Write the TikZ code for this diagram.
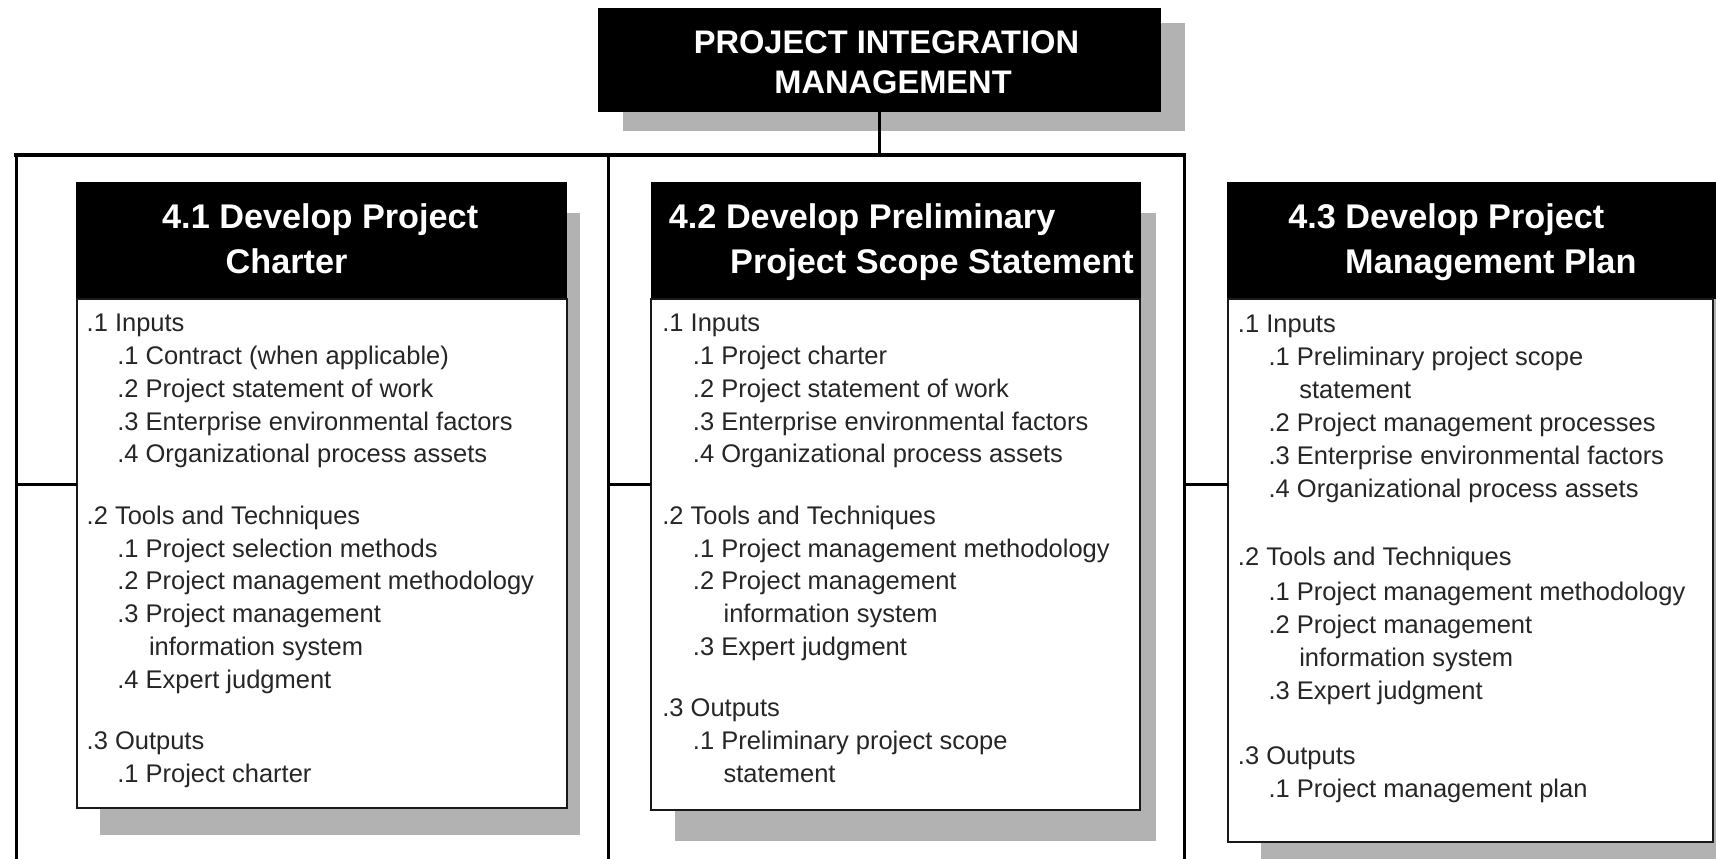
\documentclass[tikz,border=0pt]{standalone}
\usepackage{fontspec}
\setmainfont{Liberation Sans}
\newcommand\txl[4]{\node[bt] (#1) at (#2,#3) {#4};}
\begin{document}
\begin{tikzpicture}[x=1pt,y=-1pt,
  shadowfill/.style={fill=black!30},
  hdr/.style={fill=black, draw=black, line width=1pt, inner sep=0pt, outer sep=0pt, anchor=north west},
  bodybox/.style={fill=white, draw=black!90, line width=1.8pt, inner sep=0pt, outer sep=0pt, anchor=north west},
  bt/.style={font=\fontsize{23.3}{30}\selectfont, text=black!85, anchor=base west, inner sep=0pt},
  ht/.style={font=\fontsize{31.3}{41}\selectfont\bfseries, text=white, anchor=base west, inner sep=0pt},
  tt/.style={font=\fontsize{29.8}{37}\selectfont\bfseries, text=white, anchor=base, inner sep=0pt},
  trunk/.style={line width=2.8pt, draw=black},
  ]
\clip (0,0) rectangle (1568,784);
\fill[white] (0,0) rectangle (1568,784);
% shadows
\fill[shadowfill] (569,21) rectangle (1083,120);
\fill[shadowfill] (91,195) rectangle (530,763);
\fill[shadowfill] (617,195) rectangle (1056,768);
\fill[shadowfill] (1152,195) rectangle (1590,800);
% title
\node[hdr, minimum width=513pt, minimum height=94pt] (title) at (547,8) {};
\node[tt] (ttl1) at (810,48.5) {PROJECT INTEGRATION};
\node[tt] (ttl2) at (816,85) {MANAGEMENT};
% bracket
\coordinate (tl) at (15,142);
\coordinate (tm) at (556,142);
\coordinate (tr) at (1082,142);
\coordinate (lb) at (15,800);
\coordinate (mb) at (556,800);
\coordinate (rb) at (1082,800);
\draw[trunk] (title.south) -- (title.south |- tm);
\draw[trunk] (tl) -- (lb);
\draw[trunk] (tm) -- (mb);
\draw[trunk] (tr) -- (rb);
\draw[trunk, line width=3.8pt, line cap=rect] (tl) -- (tr);
% boxes
\node[hdr, minimum width=448pt, minimum height=106pt] (h1) at (70,167) {};
\node[bodybox, minimum width=448pt, minimum height=465pt] (b1) at (70,273) {};
\node[hdr, minimum width=447pt, minimum height=106pt] (h2) at (595,167) {};
\node[bodybox, minimum width=447pt, minimum height=467pt] (b2) at (595,273) {};
\node[hdr, minimum width=470pt, minimum height=106pt] (h3) at (1122,167) {};
\node[bodybox, minimum width=443pt, minimum height=496pt] (b3) at (1122,273) {};
% branches
\coordinate (j1) at (15,443);
\coordinate (j2) at (556,443);
\coordinate (j3) at (1082,443);
\draw[trunk] (j1) -- (j1 -| b1.west);
\draw[trunk] (j2) -- (j2 -| b2.west);
\draw[trunk] (j3) -- (j3 -| b3.west);
% headers
\node[ht] (h1a) at (148,209) {4.1 Develop Project};
\node[ht] (h1b) at (206,250) {Charter};
\node[ht] (h2a) at (611,209) {4.2 Develop Preliminary};
\node[ht] (h2b) at (667,250) {Project Scope Statement};
\node[ht] (h3a) at (1177,209) {4.3 Develop Project};
\node[ht] (h3b) at (1229,250) {Management Plan};
% box 1 text
\txl{a1}{79}{303}{.1 Inputs}
\txl{a2}{107}{333}{.1 Contract (when applicable)}
\txl{a3}{107}{363}{.2 Project statement of work}
\txl{a4}{107}{393}{.3 Enterprise environmental factors}
\txl{a5}{107}{423}{.4 Organizational process assets}
\txl{a6}{79}{479}{.2 Tools and Techniques}
\txl{a7}{107}{509}{.1 Project selection methods}
\txl{a8}{107}{539}{.2 Project management methodology}
\txl{a9}{107}{569}{.3 Project management}
\txl{a10}{136}{599}{information system}
\txl{a11}{107}{629}{.4 Expert judgment}
\txl{a12}{79}{685}{.3 Outputs}
\txl{a13}{107}{715}{.1 Project charter}
% box 2 text
\txl{c1}{605}{303}{.1 Inputs}
\txl{c2}{633}{333}{.1 Project charter}
\txl{c3}{633}{363}{.2 Project statement of work}
\txl{c4}{633}{393}{.3 Enterprise environmental factors}
\txl{c5}{633}{423}{.4 Organizational process assets}
\txl{c6}{605}{479}{.2 Tools and Techniques}
\txl{c7}{633}{509}{.1 Project management methodology}
\txl{c8}{633}{539}{.2 Project management}
\txl{c9}{661}{569}{information system}
\txl{c10}{633}{599}{.3 Expert judgment}
\txl{c11}{605}{655}{.3 Outputs}
\txl{c12}{633}{685}{.1 Preliminary project scope}
\txl{c13}{661}{715}{statement}
% box 3 text
\txl{d1}{1131}{304}{.1 Inputs}
\txl{d2}{1159}{334}{.1 Preliminary project scope}
\txl{d3}{1187}{364}{statement}
\txl{d4}{1159}{394}{.2 Project management processes}
\txl{d5}{1159}{424}{.3 Enterprise environmental factors}
\txl{d6}{1159}{455}{.4 Organizational process assets}
\txl{d7}{1131}{517}{.2 Tools and Techniques}
\txl{d8}{1159}{549}{.1 Project management methodology}
\txl{d9}{1159}{579}{.2 Project management}
\txl{d10}{1187}{609}{information system}
\txl{d11}{1159}{639}{.3 Expert judgment}
\txl{d12}{1131}{699}{.3 Outputs}
\txl{d13}{1159}{729}{.1 Project management plan}
\end{tikzpicture}
\end{document}
